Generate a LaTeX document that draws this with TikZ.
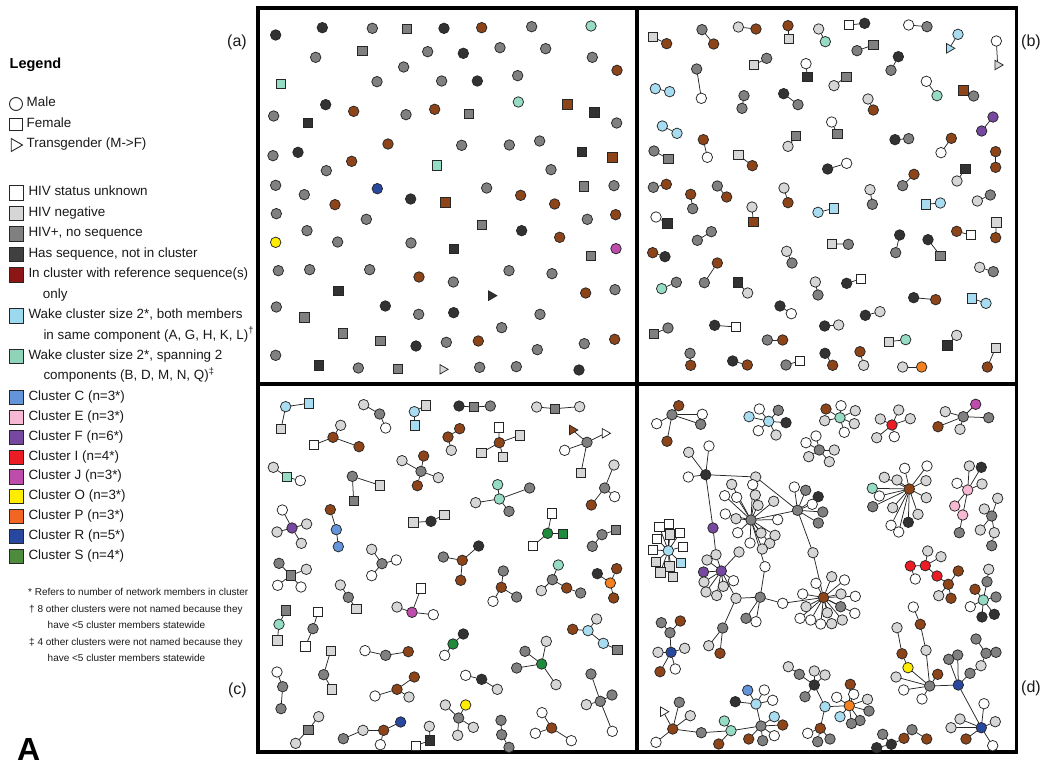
\documentclass[tikz,border=0pt]{standalone}
\usepackage{fontspec}
\setmainfont{Liberation Sans}
\usetikzlibrary{shapes.geometric}
\definecolor{kdk}{RGB}{50,50,50}
\definecolor{kgy}{RGB}{128,128,128}
\definecolor{klg}{RGB}{214,214,214}
\definecolor{kbr}{RGB}{140,68,24}
\definecolor{kmt}{RGB}{150,220,196}
\definecolor{kcy}{RGB}{168,220,240}
\definecolor{kcf}{RGB}{100,148,218}
\definecolor{kpk}{RGB}{246,184,210}
\definecolor{kvi}{RGB}{118,72,160}
\definecolor{krd}{RGB}{236,28,36}
\definecolor{kmg}{RGB}{190,76,170}
\definecolor{kyl}{RGB}{255,236,0}
\definecolor{kor}{RGB}{245,128,32}
\definecolor{klor}{RGB}{242,101,34}
\definecolor{knv}{RGB}{40,72,160}
\definecolor{kgn}{RGB}{30,140,60}
\definecolor{klgn}{RGB}{76,140,60}
\definecolor{kdr}{RGB}{140,22,22}
\definecolor{klcy}{RGB}{157,217,238}
\definecolor{klmt}{RGB}{143,211,184}
\definecolor{kldk}{RGB}{64,64,64}
\pgfdeclarelayer{bg}
\pgfsetlayers{bg,main}
\newcommand\mknode[4]{\node[#2] (#1) at (#3,#4) {};}
\tikzset{
  nd/.style={draw=black!85, line width=0.75pt, inner sep=0pt, outer sep=0pt},
  cir/.style={nd, circle, minimum size=10.5pt},
  sqr/.style={nd, rectangle, minimum size=9.5pt},
  tri/.style={nd, regular polygon, regular polygon sides=3, shape border rotate=-90, minimum size=11pt},
  cD/.style={cir, fill=kdk}, cG/.style={cir, fill=kgy}, cL/.style={cir, fill=klg}, cW/.style={cir, fill=white},
  cB/.style={cir, fill=kbr}, cM/.style={cir, fill=kmt}, cC/.style={cir, fill=kcy}, cF/.style={cir, fill=kcf},
  cK/.style={cir, fill=kpk}, cV/.style={cir, fill=kvi}, cR/.style={cir, fill=krd}, cP/.style={cir, fill=kmg},
  cY/.style={cir, fill=kyl}, cO/.style={cir, fill=kor}, cN/.style={cir, fill=knv}, cS/.style={cir, fill=kgn},
  sD/.style={sqr, fill=kdk}, sG/.style={sqr, fill=kgy}, sL/.style={sqr, fill=klg}, sW/.style={sqr, fill=white},
  sB/.style={sqr, fill=kbr}, sM/.style={sqr, fill=kmt}, sC/.style={sqr, fill=kcy}, sS/.style={sqr, fill=kgn},
  tD/.style={tri, fill=kdk}, tL/.style={tri, fill=klg}, tW/.style={tri, fill=white}, tB/.style={tri, fill=kbr}, tC/.style={tri, fill=kcy},
  lnk/.style={draw=black!85, line width=0.75pt},
  frm/.style={draw=black, line width=3.5pt},
  lgtxt/.style={anchor=mid west, inner sep=0pt, text=black!90, font=\fontsize{13.4}{16}\selectfont},
  fntxt/.style={anchor=mid west, inner sep=0pt, text=black!90, font=\fontsize{10}{12}\selectfont},
  pnl/.style={inner sep=0pt, text=black!90, font=\fontsize{16}{19}\selectfont},
  lgsq/.style={draw=black!85, line width=0.9pt, rectangle, minimum size=14.5pt, inner sep=0pt},
}
\begin{document}
\begin{tikzpicture}[x=1pt,y=-1pt]
\useasboundingbox (0,0) rectangle (1045,765);
% ---------------- legend
\node[anchor=mid west, inner sep=0pt, font=\bfseries\fontsize{14.5}{17}\selectfont] (ltitle) at (9.5,66) {Legend};
\node[draw=black!85, line width=0.9pt, circle, minimum size=13pt, inner sep=0pt] (lsymM) at (16,104) {};
\node[lgtxt] (ltM) at (26.5,104) {Male};
\node[draw=black!85, line width=0.9pt, rectangle, minimum size=12.5pt, inner sep=0pt] (lsymF) at (16,124.5) {};
\node[lgtxt] (ltF) at (26.5,124.5) {Female};
\node[draw=black!85, line width=0.9pt, regular polygon, regular polygon sides=3, shape border rotate=-90, minimum size=15pt, inner sep=0pt] (lsymT) at (15,145) {};
\node[lgtxt] (ltT) at (26.5,145) {Transgender (M->F)};
\node[lgsq, fill=white] (lq1) at (16.5,193) {};
\node[lgtxt] (lt1) at (28.3,193) {HIV status unknown};
\node[lgsq, fill=klg] (lq2) at (16.5,213.5) {};
\node[lgtxt] (lt2) at (28.3,213.5) {HIV negative};
\node[lgsq, fill=kgy] (lq3) at (16.5,234) {};
\node[lgtxt] (lt3) at (28.3,234) {HIV+, no sequence};
\node[lgsq, fill=kldk] (lq4) at (16.5,254.5) {};
\node[lgtxt] (lt4) at (28.3,254.5) {Has sequence, not in cluster};
\node[lgsq, fill=kdr] (lq5) at (16.5,275) {};
\node[lgtxt] (lt5) at (28.3,275) {In cluster with reference sequence(s)};
\node[lgtxt] (lt5b) at (42.7,295.5) {only};
\node[lgsq, fill=klcy] (lq6) at (16.5,316) {};
\node[lgtxt] (lt6) at (28.3,316) {Wake cluster size 2*, both members};
\node[lgtxt] (lt6b) at (43.3,336.5) {in same component (A, G, H, K, L)\textsuperscript{†}};
\node[lgsq, fill=klmt] (lq7) at (16.5,356.5) {};
\node[lgtxt] (lt7) at (28.3,356.5) {Wake cluster size 2*, spanning 2};
\node[lgtxt] (lt7b) at (43.3,377) {components (B, D, M, N, Q)\textsuperscript{‡}};
\node[lgsq, fill=kcf] (lq8) at (16.5,397.5) {};
\node[lgtxt] (lt8) at (28.3,397.5) {Cluster C (n=3*)};
\node[lgsq, fill=kpk] (lq9) at (16.5,417.5) {};
\node[lgtxt] (lt9) at (28.3,417.5) {Cluster E (n=3*)};
\node[lgsq, fill=kvi] (lq10) at (16.5,437.5) {};
\node[lgtxt] (lt10) at (28.3,437.5) {Cluster F (n=6*)};
\node[lgsq, fill=krd] (lq11) at (16.5,457.5) {};
\node[lgtxt] (lt11) at (28.3,457.5) {Cluster I (n=4*)};
\node[lgsq, fill=kmg] (lq12) at (16.5,477) {};
\node[lgtxt] (lt12) at (28.3,477) {Cluster J (n=3*)};
\node[lgsq, fill=kyl] (lq13) at (16.5,496.5) {};
\node[lgtxt] (lt13) at (28.3,496.5) {Cluster O (n=3*)};
\node[lgsq, fill=klor] (lq14) at (16.5,516.5) {};
\node[lgtxt] (lt14) at (28.3,516.5) {Cluster P (n=3*)};
\node[lgsq, fill=knv] (lq15) at (16.5,536.5) {};
\node[lgtxt] (lt15) at (28.3,536.5) {Cluster R (n=5*)};
\node[lgsq, fill=klgn] (lq16) at (16.5,556.5) {};
\node[lgtxt] (lt16) at (28.3,556.5) {Cluster S (n=4*)};
\node[fntxt] (fn1) at (28,593) {* Refers to number of network members in cluster};
\node[fntxt] (fn2) at (29,609.5) {† 8 other clusters were not named because they};
\node[fntxt] (fn3) at (47.5,626) {have <5 cluster members statewide};
\node[fntxt] (fn4) at (29,642.5) {‡ 4 other clusters were not named because they};
\node[fntxt] (fn5) at (47.5,659) {have <5 cluster members statewide};
\node[anchor=base west, inner sep=0pt, font=\bfseries\fontsize{32}{36}\selectfont] (bigA) at (17,760) {A};
\node[pnl, anchor=mid east] (la) at (247,44) {(a)};
\node[pnl, anchor=mid west] (lb) at (1021,44) {(b)};
\node[pnl, anchor=mid east] (lc) at (247,692) {(c)};
\node[pnl, anchor=mid west] (ld) at (1021,690) {(d)};
% ---------------- frames
\draw[frm] (258,8) rectangle (1016.5,752);
\draw[frm] (637,8) -- (637,752);
\draw[frm] (258,384) -- (1016.5,384);
% ---------------- panel a
\begin{scope}[shift={(255pt,-5pt)}, x=0.33333pt, y=-0.33333pt]
\mknode{a1}{cD}{62}{90}\mknode{a2}{cD}{202}{68}\mknode{a3}{cG}{352}{70}\mknode{a4}{sG}{455}{72}
\mknode{a5}{cD}{567}{70}\mknode{a6}{cB}{680}{68}\mknode{a7}{cG}{830}{65}\mknode{a8}{cM}{1008}{63}
\mknode{a9}{cG}{182}{157}\mknode{a10}{sG}{322}{137}\mknode{a11}{cG}{518}{140}\mknode{a12}{cD}{625}{145}
\mknode{a13}{cG}{735}{128}\mknode{a14}{cG}{872}{131}\mknode{a15}{cG}{1012}{157}\mknode{a16}{cB}{1086}{196}
\mknode{a17}{sM}{78}{237}\mknode{a18}{cG}{366}{230}\mknode{a19}{cG}{446}{186}\mknode{a20}{cG}{560}{228}
\mknode{a21}{cD}{667}{228}\mknode{a22}{cG}{788}{212}\mknode{a23}{cD}{212}{299}\mknode{a24}{cB}{296}{319}
\mknode{a25}{cG}{56}{333}\mknode{a26}{sD}{158}{354}\mknode{a27}{cG}{453}{329}\mknode{a28}{cB}{539}{313}
\mknode{a29}{sG}{641}{326}\mknode{a30}{cM}{790}{291}\mknode{a31}{sB}{937}{298}\mknode{a32}{sD}{1018}{322}
\mknode{a33}{cG}{1085}{354}\mknode{a34}{cG}{54}{452}\mknode{a35}{cD}{129}{442}\mknode{a36}{cB}{399}{417}
\mknode{a37}{cB}{290}{469}\mknode{a38}{cG}{214}{497}\mknode{a39}{cG}{620}{421}\mknode{a40}{cG}{763}{420}
\mknode{a41}{cG}{854}{408}\mknode{a42}{sM}{546}{481}\mknode{a43}{cG}{888}{494}\mknode{a44}{sD}{980}{440}
\mknode{a45}{sB}{1072}{457}\mknode{a46}{cG}{62}{541}\mknode{a47}{cG}{148}{569}\mknode{a48}{cN}{367}{551}
\mknode{a49}{cD}{467}{582}\mknode{a50}{cB}{240}{599}\mknode{a51}{sB}{571}{592}\mknode{a52}{cG}{695}{549}
\mknode{a53}{cB}{797}{571}\mknode{a54}{cB}{899}{597}\mknode{a55}{sG}{986}{544}\mknode{a56}{cG}{1077}{542}
\mknode{a57}{cG}{64}{626}\mknode{a58}{cG}{334}{643}\mknode{a59}{cG}{156}{677}\mknode{a60}{sG}{680}{660}
\mknode{a61}{cD}{800}{677}\mknode{a62}{cG}{997}{643}\mknode{a63}{cB}{1082}{629}\mknode{a64}{cY}{62}{712}
\mknode{a65}{cG}{248}{711}\mknode{a66}{cG}{468}{714}\mknode{a67}{sD}{596}{731}\mknode{a68}{cB}{914}{697}
\mknode{a69}{sG}{1008}{752}\mknode{a70}{cP}{1083}{731}\mknode{a71}{cG}{70}{797}\mknode{a72}{cG}{164}{794}
\mknode{a73}{cG}{344}{794}\mknode{a74}{cB}{492}{816}\mknode{a75}{cG}{595}{831}\mknode{a76}{cG}{762}{797}
\mknode{a77}{cG}{891}{806}\mknode{a78}{cB}{992}{864}\mknode{a79}{cG}{1080}{854}\mknode{a80}{sD}{250}{857}
\mknode{a81}{tD}{709}{872}\mknode{a82}{cG}{64}{906}\mknode{a83}{cD}{391}{903}\mknode{a84}{cG}{491}{928}
\mknode{a85}{cD}{596}{923}\mknode{a86}{cG}{855}{928}\mknode{a87}{sG}{148}{937}\mknode{a88}{sG}{263}{985}
\mknode{a89}{sG}{376}{1008}\mknode{a90}{cD}{483}{1023}\mknode{a91}{cG}{574}{1012}\mknode{a92}{cB}{670}{1008}
\mknode{a93}{cG}{740}{968}\mknode{a94}{cG}{847}{1034}\mknode{a95}{cG}{988}{1016}\mknode{a96}{cB}{1079}{1003}
\mknode{a97}{cG}{62}{1051}\mknode{a98}{sD}{191}{1081}\mknode{a99}{cG}{310}{1089}\mknode{a100}{sG}{429}{1092}
\mknode{a101}{tL}{563}{1093}\mknode{a102}{cG}{674}{1087}\mknode{a103}{cG}{784}{1085}\mknode{a104}{cD}{972}{1095}
\end{scope}
% ---------------- panel b
\begin{scope}[shift={(636pt,-5pt)}, x=0.33333pt, y=-0.33333pt]
\mknode{b1}{sL}{50}{96}\mknode{b2}{cB}{92}{116}
\mknode{b3}{cG}{198}{74}\mknode{b4}{cB}{233}{117}
\mknode{b5}{cL}{307}{66}\mknode{b6}{cB}{360}{72}
\mknode{b7}{cB}{456}{62}\mknode{b8}{sL}{459}{102}
\mknode{b9}{cL}{548}{72}\mknode{b10}{cM}{568}{110}
\mknode{b11}{sW}{638}{60}\mknode{b12}{cD}{686}{55}
\mknode{b13}{cW}{818}{60}\mknode{b14}{cG}{873}{65}
\mknode{b15}{cC}{966}{88}\mknode{b16}{tC}{940}{130}
\mknode{b17}{cW}{1081}{108}\mknode{b18}{tL}{1085}{180}
\mknode{b19}{cG}{663}{137}\mknode{b20}{sG}{712}{120}
\mknode{b21}{sL}{354}{180}\mknode{b22}{cG}{392}{160}
\mknode{b23}{cW}{510}{176}\mknode{b24}{sD}{514}{215}
\mknode{b25}{cD}{787}{155}\mknode{b26}{cG}{765}{196}
\mknode{b27}{cG}{182}{192}\mknode{b28}{cW}{196}{280}
\mknode{b29}{cC}{58}{251}\mknode{b30}{cC}{101}{260}
\mknode{b31}{cG}{324}{272}\mknode{b32}{cG}{318}{310}
\mknode{b33}{cD}{443}{266}\mknode{b34}{cG}{486}{299}
\mknode{b35}{cL}{594}{242}\mknode{b36}{sG}{631}{215}
\mknode{b37}{cW}{871}{229}\mknode{b38}{cM}{903}{272}
\mknode{b39}{sB}{982}{256}\mknode{b40}{cG}{1013}{273}
\mknode{b41}{cL}{696}{282}\mknode{b42}{cB}{712}{315}
\mknode{b43}{cC}{79}{363}\mknode{b44}{cC}{123}{385}
\mknode{b45}{cB}{202}{404}\mknode{b46}{cW}{214}{457}
\mknode{b47}{sG}{480}{393}\mknode{b48}{cL}{456}{424}
\mknode{b49}{cW}{587}{351}\mknode{b50}{sG}{604}{387}
\mknode{b51}{cV}{1071}{336}\mknode{b52}{cV}{1037}{378}
\mknode{b53}{cD}{777}{404}\mknode{b54}{cG}{818}{401}
\mknode{b55}{cB}{946}{400}\mknode{b56}{cW}{915}{443}
\mknode{b57}{cG}{54}{438}\mknode{b58}{sG}{97}{462}
\mknode{b59}{sL}{307}{450}\mknode{b60}{cB}{349}{482}
\mknode{b61}{cD}{575}{492}\mknode{b62}{cW}{632}{475}
\mknode{b63}{cB}{1079}{440}\mknode{b64}{cB}{1079}{487}
\mknode{b65}{sD}{988}{491}\mknode{b66}{cL}{963}{528}
\mknode{b67}{cG}{52}{547}\mknode{b68}{cB}{91}{538}
\mknode{b69}{cB}{164}{568}\mknode{b70}{cG}{170}{611}
\mknode{b71}{cG}{244}{543}\mknode{b72}{cB}{272}{576}
\mknode{b73}{cL}{444}{549}\mknode{b74}{cB}{456}{593}
\mknode{b75}{cB}{834}{508}\mknode{b76}{cG}{800}{542}
\mknode{b77}{cL}{702}{554}\mknode{b78}{cG}{709}{598}
\mknode{b79}{cL}{1024}{588}\mknode{b80}{cG}{1063}{570}
\mknode{b81}{sC}{869}{598}\mknode{b82}{cC}{913}{594}
\mknode{b83}{cL}{348}{606}\mknode{b84}{sB}{352}{650}
\mknode{b85}{cC}{546}{622}\mknode{b86}{sC}{594}{610}
\mknode{b87}{cW}{60}{636}\mknode{b88}{sD}{94}{655}
\mknode{b89}{cG}{184}{706}\mknode{b90}{cG}{226}{680}
\mknode{b91}{cB}{962}{679}\mknode{b92}{sW}{1004}{690}
\mknode{b93}{sL}{1081}{652}\mknode{b94}{cB}{1079}{698}
\mknode{b95}{cB}{50}{743}\mknode{b96}{cD}{87}{755}
\mknode{b97}{sL}{588}{716}\mknode{b98}{cG}{637}{718}
\mknode{b99}{cD}{791}{690}\mknode{b100}{cG}{779}{743}
\mknode{b101}{cD}{876}{704}\mknode{b102}{sG}{913}{752}
\mknode{b103}{cL}{452}{739}\mknode{b104}{cG}{468}{774}
\mknode{b105}{cB}{244}{774}\mknode{b106}{cG}{205}{833}
\mknode{b107}{cM}{77}{851}\mknode{b108}{cG}{121}{832}
\mknode{b109}{sD}{305}{832}\mknode{b110}{cL}{335}{864}
\mknode{b111}{cL}{538}{831}\mknode{b112}{cG}{546}{870}
\mknode{b113}{cD}{632}{835}\mknode{b114}{sW}{674}{822}
\mknode{b115}{cL}{1031}{787}\mknode{b116}{cG}{1072}{800}
\mknode{b117}{cD}{833}{878}\mknode{b118}{cB}{899}{884}
\mknode{b119}{sC}{1008}{880}\mknode{b120}{cC}{1050}{895}
\mknode{b121}{cD}{432}{903}\mknode{b122}{cW}{466}{926}
\mknode{b123}{cD}{688}{931}\mknode{b124}{cL}{732}{920}
\mknode{b125}{sG}{54}{986}\mknode{b126}{cG}{96}{969}
\mknode{b127}{cD}{236}{961}\mknode{b128}{sW}{299}{966}
\mknode{b129}{cD}{566}{963}\mknode{b130}{cL}{608}{960}
\mknode{b131}{cG}{394}{1005}\mknode{b132}{cB}{440}{1005}
\mknode{b133}{sL}{759}{1010}\mknode{b134}{cM}{809}{1004}
\mknode{b135}{sD}{934}{1021}\mknode{b136}{cL}{962}{991}
\mknode{b137}{sL}{1079}{1028}\mknode{b138}{cB}{1054}{1086}
\mknode{b139}{cG}{162}{1045}\mknode{b140}{cB}{164}{1081}
\mknode{b141}{cD}{290}{1068}\mknode{b142}{cB}{334}{1080}
\mknode{b143}{cG}{450}{1080}\mknode{b144}{sW}{492}{1068}
\mknode{b145}{cD}{567}{1045}\mknode{b146}{cB}{590}{1081}
\mknode{b147}{cB}{672}{1040}\mknode{b148}{cL}{683}{1081}
\mknode{b149}{cL}{800}{1086}\mknode{b150}{cO}{857}{1086}
\end{scope}
% ---------------- panel c
\begin{scope}[shift={(255pt,-378pt)}, x=0.33333pt, y=-0.33333pt]
\mknode{c1}{cC}{92}{86}\mknode{c2}{sC}{161}{76}\mknode{c3}{sL}{78}{153}
\mknode{c4}{cL}{326}{80}\mknode{c5}{cG}{374}{108}\mknode{c6}{cW}{392}{150}
\mknode{c7}{sL}{512}{82}\mknode{c8}{cC}{478}{101}\mknode{c9}{sC}{479}{142}
\mknode{c10}{cD}{612}{84}\mknode{c11}{sG}{656}{87}\mknode{c12}{cG}{706}{84}
\mknode{c13}{cL}{845}{87}\mknode{c14}{sG}{900}{92}\mknode{c15}{cL}{974}{86}
\mknode{c16}{cL}{257}{142}\mknode{c17}{cB}{234}{178}\mknode{c18}{sW}{176}{201}\mknode{c19}{cB}{312}{206}
\mknode{c20}{cB}{614}{152}\mknode{c21}{cB}{579}{177}\mknode{c22}{cL}{589}{217}
\mknode{c23}{sW}{731}{148}\mknode{c24}{sL}{794}{172}\mknode{c25}{cB}{733}{194}\mknode{c26}{sL}{679}{224}\mknode{c27}{sL}{744}{236}
\mknode{c28}{tB}{952}{156}\mknode{c29}{tW}{1050}{166}\mknode{c30}{cG}{996}{193}\mknode{c31}{cW}{929}{217}\mknode{c32}{sL}{978}{284}
\mknode{c33}{cL}{55}{268}\mknode{c34}{sM}{95}{297}\mknode{c35}{cW}{136}{308}
\mknode{c36}{cG}{292}{295}\mknode{c37}{sL}{375}{322}\mknode{c38}{sG}{296}{368}
\mknode{c39}{cL}{441}{248}\mknode{c40}{cB}{506}{234}\mknode{c41}{cG}{498}{280}\mknode{c42}{cL}{550}{299}\mknode{c43}{cB}{487}{323}
\mknode{c44}{cL}{1077}{261}\mknode{c45}{cG}{1049}{330}\mknode{c46}{cW}{1079}{356}\mknode{c47}{cB}{1009}{381}
\mknode{c48}{cM}{728}{320}\mknode{c49}{cL}{662}{374}\mknode{c50}{cM}{733}{363}\mknode{c51}{cG}{824}{330}\mknode{c52}{cG}{762}{400}
\mknode{c53}{cW}{82}{396}\mknode{c54}{cL}{155}{438}\mknode{c55}{cV}{111}{450}\mknode{c56}{cL}{66}{462}\mknode{c57}{cL}{139}{496}
\mknode{c58}{cB}{226}{395}\mknode{c59}{cF}{244}{455}\mknode{c60}{cF}{250}{506}
\mknode{c61}{sL}{475}{433}\mknode{c62}{cD}{528}{430}\mknode{c63}{sL}{568}{410}
\mknode{c64}{sW}{890}{406}\mknode{c65}{cS}{878}{466}\mknode{c66}{sS}{924}{467}\mknode{c67}{sW}{834}{504}
\mknode{c68}{cG}{1012}{505}\mknode{c69}{cG}{1041}{470}\mknode{c70}{sG}{1083}{456}
\mknode{c71}{cL}{350}{514}\mknode{c72}{cG}{381}{557}\mknode{c73}{cW}{424}{546}\mknode{c74}{cW}{350}{593}
\mknode{c75}{cD}{671}{504}\mknode{c76}{cG}{565}{537}\mknode{c77}{cB}{622}{547}\mknode{c78}{cB}{617}{607}
\mknode{c79}{cG}{72}{556}\mknode{c80}{sG}{107}{592}\mknode{c81}{cL}{154}{574}\mknode{c82}{cW}{68}{622}\mknode{c83}{cW}{138}{627}
\mknode{c84}{cL}{256}{621}\mknode{c85}{cG}{280}{658}\mknode{c86}{sL}{304}{692}
\mknode{c87}{cG}{745}{579}\mknode{c88}{cB}{739}{628}\mknode{c89}{cW}{714}{670}\mknode{c90}{cG}{785}{657}
\mknode{c91}{cM}{910}{561}\mknode{c92}{cG}{892}{605}\mknode{c93}{cL}{859}{638}\mknode{c94}{cB}{935}{630}\mknode{c95}{cG}{977}{645}
\mknode{c96}{cD}{1027}{587}\mknode{c97}{cB}{1085}{572}\mknode{c98}{cO}{1066}{615}\mknode{c99}{cB}{1076}{660}
\mknode{c100}{sW}{498}{631}\mknode{c101}{cP}{471}{703}\mknode{c102}{cL}{426}{687}\mknode{c103}{cW}{535}{710}
\mknode{c104}{sG}{93}{697}\mknode{c105}{cM}{72}{739}\mknode{c106}{sL}{67}{787}
\mknode{c107}{sW}{189}{702}\mknode{c108}{cG}{174}{752}\mknode{c109}{sW}{151}{805}
\mknode{c110}{cL}{1025}{723}\mknode{c111}{cC}{999}{758}\mknode{c112}{cB}{953}{754}\mknode{c113}{cC}{1045}{796}\mknode{c114}{sG}{1087}{815}
\mknode{c115}{cW}{330}{818}\mknode{c116}{cG}{392}{832}\mknode{c117}{cB}{460}{821}
\mknode{c118}{cD}{625}{768}\mknode{c119}{cS}{594}{798}\mknode{c120}{cW}{569}{832}
\mknode{c121}{cL}{874}{790}\mknode{c122}{cG}{810}{820}\mknode{c123}{cS}{860}{858}\mknode{c124}{cG}{785}{870}\mknode{c125}{cL}{903}{920}
\mknode{c126}{sL}{227}{818}\mknode{c127}{cG}{206}{890}\mknode{c128}{sL}{231}{934}
\mknode{c129}{cW}{66}{882}\mknode{c130}{cG}{83}{926}\mknode{c131}{cG}{78}{992}
\mknode{c132}{cW}{632}{892}\mknode{c133}{cD}{680}{904}\mknode{c134}{cL}{727}{934}
\mknode{c135}{cB}{478}{897}\mknode{c136}{cB}{426}{934}\mknode{c137}{cW}{360}{954}\mknode{c138}{cL}{462}{957}
\mknode{c139}{cG}{1008}{888}\mknode{c140}{cG}{1071}{951}\mknode{c141}{cL}{994}{980}\mknode{c142}{cG}{1036}{970}\mknode{c143}{cW}{1072}{1060}
\mknode{c144}{cL}{571}{981}\mknode{c145}{cY}{632}{981}\mknode{c146}{cG}{611}{1020}\mknode{c147}{cL}{655}{1048}\mknode{c148}{cL}{608}{1072}
\mknode{c149}{cG}{738}{1027}\mknode{c150}{cG}{740}{1070}\mknode{c151}{cG}{762}{1108}
\mknode{c152}{cW}{861}{1004}\mknode{c153}{cB}{890}{1050}\mknode{c154}{cW}{841}{1066}\mknode{c155}{cW}{949}{1088}
\mknode{c156}{cL}{191}{1016}\mknode{c157}{sG}{160}{1055}\mknode{c158}{cL}{122}{1096}
\mknode{c159}{cG}{265}{1082}\mknode{c160}{cL}{324}{1057}\mknode{c161}{cB}{386}{1057}\mknode{c162}{cN}{437}{1032}\mknode{c163}{cW}{376}{1100}
\mknode{c164}{cL}{523}{1045}\mknode{c165}{sD}{525}{1087}\mknode{c166}{sW}{483}{1103}
\end{scope}
% ---------------- panel d
\mknode{d1}{cB}{678.7}{405.7}\mknode{d2}{cG}{672}{414.7}\mknode{d3}{cW}{656.7}{423.7}\mknode{d4}{cW}{702.3}{414.3}\mknode{d5}{cG}{700.7}{424.3}\mknode{d6}{cB}{667}{441.3}
\mknode{d7}{cC}{768.7}{421.3}\mknode{d8}{cC}{749}{416.7}\mknode{d9}{cW}{759.3}{409}\mknode{d10}{cG}{778.3}{410.3}\mknode{d11}{cD}{786}{422.7}\mknode{d12}{cL}{776}{435}\mknode{d13}{cW}{758.3}{430.7}
\mknode{d14}{cM}{840}{417.7}\mknode{d15}{cB}{826}{409}\mknode{d16}{cL}{824.7}{420.7}\mknode{d17}{cW}{841}{405.7}\mknode{d18}{cL}{855.3}{410.7}\mknode{d19}{cL}{854.3}{423.7}\mknode{d20}{cW}{844.3}{432.3}
\mknode{d21}{cG}{819.3}{450}\mknode{d22}{cW}{816}{436}\mknode{d23}{cW}{806}{442.7}\mknode{d24}{cL}{808.7}{456.7}\mknode{d25}{cL}{829.3}{461.7}\mknode{d26}{cL}{834.3}{450}
\mknode{d27}{cR}{892}{425}\mknode{d28}{cL}{898.7}{410}\mknode{d29}{cL}{880.3}{419}\mknode{d30}{cL}{910.3}{418.7}\mknode{d31}{cL}{876.7}{437.7}\mknode{d32}{cW}{894.3}{436.7}
\mknode{d33}{cG}{963.3}{416.7}\mknode{d34}{cL}{945.3}{411.7}\mknode{d35}{cP}{975.7}{404.3}\mknode{d36}{cG}{988.7}{417.7}\mknode{d37}{cB}{938}{426.7}\mknode{d38}{cL}{960}{429.3}
\mknode{d39}{cB}{909.3}{489}\mknode{d40}{cM}{872.3}{488.3}\mknode{d41}{cL}{884.3}{477.3}\mknode{d42}{cL}{897}{480}\mknode{d43}{cW}{904.7}{468.3}\mknode{d44}{cW}{927}{466}\mknode{d45}{cL}{926}{480.7}\mknode{d46}{cL}{926.3}{497.7}\mknode{d47}{cW}{879.3}{496}\mknode{d48}{cG}{872.7}{506.7}\mknode{d49}{cL}{892.7}{507.7}\mknode{d50}{cW}{891}{525.3}\mknode{d51}{cW}{898.7}{532}\mknode{d52}{cD}{908.3}{522.3}\mknode{d53}{cL}{918}{514.3}
\mknode{d54}{cK}{967.7}{490}\mknode{d55}{cL}{969.3}{466}\mknode{d56}{cD}{981.3}{467.3}\mknode{d57}{cW}{957}{483.3}\mknode{d58}{cL}{982}{484}\mknode{d59}{cK}{954.7}{506}\mknode{d60}{cK}{962.7}{515}\mknode{d61}{cG}{959.3}{532.7}
\mknode{d62}{cG}{991.7}{516}\mknode{d63}{cL}{997.7}{498.3}\mknode{d64}{cL}{984.3}{509}\mknode{d65}{cL}{980.3}{530}\mknode{d66}{cL}{994.3}{532.7}\mknode{d67}{cG}{991.7}{545.7}
\mknode{d68}{cR}{910.3}{566}\mknode{d69}{cR}{925.3}{565.7}\mknode{d70}{cL}{927.7}{551}\mknode{d71}{cL}{941}{556.7}\mknode{d72}{cW}{915.3}{579}\mknode{d73}{cR}{937}{576}\mknode{d74}{cB}{948.3}{584.3}\mknode{d75}{cB}{958.3}{571}\mknode{d76}{cL}{938.7}{595.7}\mknode{d77}{cB}{951}{598.3}
\mknode{d78}{cM}{983.3}{600}\mknode{d79}{cL}{988.7}{569.3}\mknode{d80}{cG}{987}{581.7}\mknode{d81}{cB}{975}{589.3}\mknode{d82}{cG}{996}{597}\mknode{d83}{cW}{970.3}{606.7}\mknode{d84}{cD}{982}{617}\mknode{d85}{cD}{994.3}{614.3}
\mknode{d86}{cL}{688.7}{452.3}\mknode{d87}{cW}{709}{446}\mknode{d88}{cD}{705.7}{474.7}\mknode{d89}{cW}{688.3}{477}\mknode{d90}{cL}{755.7}{477}\mknode{d91}{cV}{713}{528}\mknode{d92}{cL}{716}{554.7}\mknode{d93}{cV}{721.3}{571}\mknode{d94}{cV}{703.5}{572}\mknode{d95}{cL}{707}{560}\mknode{d96}{cL}{704}{582}\mknode{d97}{cL}{706}{592}\mknode{d98}{cL}{716.7}{595.5}\mknode{d99}{cL}{723.3}{586.3}\mknode{d100}{cW}{733.5}{580.7}\mknode{d101}{cL}{739}{552}\mknode{d102}{cG}{751}{520}\mknode{d103}{cG}{797.5}{510.3}
\mknode{d104}{cL}{731.7}{484.3}\mknode{d105}{cW}{752.7}{484.7}\mknode{d106}{cW}{724.7}{495.7}\mknode{d107}{cW}{736.7}{497.3}\mknode{d108}{cL}{755.3}{495}\mknode{d109}{cL}{758}{505.3}\mknode{d110}{cL}{773.7}{501.3}\mknode{d111}{cW}{725.3}{514}\mknode{d112}{cL}{736}{518.7}\mknode{d113}{cW}{777.7}{519.7}\mknode{d114}{cW}{737.7}{532.7}\mknode{d115}{cW}{750}{543}\mknode{d116}{cL}{761}{533}\mknode{d117}{cL}{769.7}{543.3}\mknode{d118}{cL}{775}{535.3}\mknode{d119}{cL}{762.3}{549}
\mknode{d120}{cW}{765}{566.7}\mknode{d121}{cG}{760.2}{597.2}\mknode{d122}{cL}{736}{598.3}\mknode{d123}{cG}{722.7}{628}\mknode{d124}{cL}{708.7}{645.7}\mknode{d125}{cB}{720}{653.3}\mknode{d126}{cG}{746}{618.3}\mknode{d127}{cW}{756}{621.7}\mknode{d128}{cW}{782.7}{603.3}\mknode{d129}{cB}{823.5}{597.5}
\mknode{d130}{cW}{794.3}{487}\mknode{d131}{cG}{805.7}{490.3}\mknode{d132}{cD}{818.2}{496.7}\mknode{d133}{cW}{812.2}{504.3}\mknode{d134}{cG}{822.8}{512}\mknode{d135}{cG}{818.3}{523}\mknode{d136}{cL}{813}{552.7}
\mknode{d137}{cW}{802.7}{594}\mknode{d138}{cW}{816}{583.3}\mknode{d139}{cL}{831.7}{576.7}\mknode{d140}{cW}{844.5}{580}\mknode{d141}{cL}{841}{594}\mknode{d142}{cW}{855.3}{596.3}\mknode{d143}{cG}{840.7}{606.7}\mknode{d144}{cW}{854.8}{613.3}\mknode{d145}{cL}{842.3}{620}\mknode{d146}{cL}{831.7}{623.7}\mknode{d147}{cL}{827.3}{612.7}\mknode{d148}{cW}{820.7}{624}\mknode{d149}{cW}{810.7}{620}\mknode{d150}{cW}{800}{618.3}\mknode{d151}{cL}{806}{606.7}
\mknode{d152}{cD}{814.3}{685}\mknode{d153}{cL}{788.3}{666.7}\mknode{d154}{cG}{799.3}{674.3}\mknode{d155}{cL}{814.3}{671}\mknode{d156}{cL}{825}{675}\mknode{d157}{cG}{805}{696.7}\mknode{d158}{cC}{825}{706.7}\mknode{d159}{cB}{820.3}{728.3}\mknode{d160}{cW}{807.7}{733.3}\mknode{d161}{cG}{817.7}{741.7}\mknode{d162}{cG}{830}{739}
\mknode{d163}{cO}{849.3}{705.7}\mknode{d164}{cB}{850.3}{684.3}\mknode{d165}{cW}{853.7}{694.3}\mknode{d166}{cW}{836.7}{697.3}\mknode{d167}{cL}{867.5}{699.3}\mknode{d168}{cG}{869}{711}\mknode{d169}{cG}{860}{720.5}\mknode{d170}{cG}{851.5}{723.5}\mknode{d171}{cC}{840}{716.7}
\mknode{d172}{cD}{876.7}{747.7}\mknode{d173}{cD}{891.3}{744.3}\mknode{d174}{cG}{882.7}{734.3}\mknode{d175}{cB}{904}{738.3}\mknode{d176}{cG}{912}{729.7}\mknode{d177}{cB}{926.7}{739}
\mknode{d178}{cG}{929.7}{686}\mknode{d179}{cW}{903.7}{690}\mknode{d180}{cL}{896}{677}\mknode{d181}{cW}{922}{699}\mknode{d182}{cB}{937.7}{674.3}\mknode{d183}{cL}{926}{650.3}\mknode{d184}{cB}{920.3}{624.3}\mknode{d185}{cW}{913.3}{607}\mknode{d186}{cY}{908}{667.7}\mknode{d187}{cB}{902}{653.7}\mknode{d188}{cL}{897}{627.7}
\mknode{d189}{cN}{958.3}{685}\mknode{d190}{cG}{948.7}{659.3}\mknode{d191}{cG}{957.7}{655}\mknode{d192}{cG}{970}{673.3}\mknode{d193}{cL}{981}{665.7}\mknode{d194}{cG}{986}{653.3}\mknode{d195}{cG}{976}{639}\mknode{d196}{cG}{996}{652.3}
\mknode{d197}{cN}{981.3}{727.7}\mknode{d198}{cW}{984}{703.7}\mknode{d199}{cL}{960}{719}\mknode{d200}{cL}{951}{727.7}\mknode{d201}{cL}{995.3}{721.7}\mknode{d202}{cB}{966}{739}\mknode{d203}{cW}{992.7}{745.7}
\mknode{d204}{cC}{668.3}{550.7}\mknode{d205}{sW}{659.3}{526.7}\mknode{d206}{sW}{668.7}{524}\mknode{d207}{sL}{670}{534.3}\mknode{d208}{sW}{680}{532.7}\mknode{d209}{sW}{656.7}{538.7}\mknode{d210}{sW}{652.7}{550}\mknode{d211}{sW}{682.7}{546.7}\mknode{d212}{sL}{656}{561.7}\mknode{d213}{sC}{681}{562.7}\mknode{d214}{sL}{669.3}{566.5}\mknode{d215}{sL}{660.3}{572.3}\mknode{d216}{sL}{672.7}{576.7}
\mknode{d217}{cN}{671}{652.3}\mknode{d218}{cG}{670}{632.7}\mknode{d219}{cG}{661.3}{622.7}\mknode{d220}{cB}{680.3}{621}\mknode{d221}{cL}{658}{652.3}\mknode{d222}{cL}{684.7}{648.3}\mknode{d223}{cB}{660}{671.7}\mknode{d224}{cW}{675.3}{669}
\mknode{d225}{cB}{672.7}{729}\mknode{d226}{tW}{663.3}{711.7}\mknode{d227}{cG}{679.3}{702.3}\mknode{d228}{cL}{690.3}{715.7}\mknode{d229}{cW}{656}{742.3}\mknode{d230}{cG}{701.3}{732.7}\mknode{d231}{cM}{731}{730.7}\mknode{d232}{cM}{724.3}{721}\mknode{d233}{cB}{718.7}{744}\mknode{d234}{cG}{761}{726}\mknode{d235}{cC}{756}{704}\mknode{d236}{cD}{735.3}{701.7}\mknode{d237}{cF}{747.7}{690.3}\mknode{d238}{cW}{764.3}{690}\mknode{d239}{cW}{772.7}{700.3}\mknode{d240}{cC}{774.3}{716.7}\mknode{d241}{cB}{782.7}{725}\mknode{d242}{cW}{774.3}{735.7}\mknode{d243}{cB}{748.7}{739}\mknode{d244}{cG}{762.7}{740.7}
% ---------------- connectors
\begin{pgfonlayer}{bg}
\foreach \i [evaluate=\i as \j using int(\i+1)] in {1,3,...,149} \draw[lnk] (b\i) -- (b\j);
\foreach \u/\v in {c1/c2,c1/c3,c4/c5,c5/c6,c8/c7,c8/c9,c10/c11,c11/c12,c13/c14,c14/c15,c17/c16,c17/c18,c17/c19,c20/c21,c21/c22,c25/c23,c25/c24,c25/c26,c25/c27,c30/c28,c30/c29,c30/c31,c30/c32,c33/c34,c34/c35,c36/c37,c36/c38,c41/c39,c41/c40,c41/c42,c41/c43,c45/c44,c45/c46,c45/c47,c50/c48,c50/c49,c50/c51,c50/c52,c55/c53,c55/c54,c55/c56,c55/c57,c58/c59,c59/c60,c61/c62,c62/c63,c65/c64,c65/c66,c65/c67,c68/c69,c69/c70,c72/c71,c72/c73,c72/c74,c77/c75,c77/c76,c77/c78,c80/c79,c80/c81,c80/c82,c80/c83,c84/c85,c85/c86,c88/c87,c88/c89,c88/c90,c91/c92,c92/c93,c92/c94,c94/c95,c98/c96,c98/c97,c98/c99,c101/c100,c101/c102,c101/c103,c104/c105,c105/c106,c107/c108,c108/c109,c111/c110,c111/c112,c111/c113,c113/c114,c115/c116,c116/c117,c118/c119,c119/c120,c123/c121,c123/c122,c123/c124,c123/c125,c126/c127,c127/c128,c129/c130,c130/c131,c132/c133,c133/c134,c136/c135,c136/c137,c136/c138,c142/c139,c142/c140,c142/c141,c142/c143,c146/c144,c146/c145,c146/c147,c146/c148,c149/c150,c150/c151,c153/c152,c153/c154,c153/c155,c156/c157,c157/c158,c159/c160,c160/c161,c161/c162,c161/c163,c164/c165,c165/c166}
  \draw[lnk] (\u) -- (\v);
\foreach \k in {1,3,4,5,6} \draw[lnk] (d2) -- (d\k);
\draw[lnk] (d4) -- (d5);
\foreach \k in {8,...,13} \draw[lnk] (d7) -- (d\k);
\foreach \k in {15,...,20} \draw[lnk] (d14) -- (d\k);
\foreach \k in {22,...,26} \draw[lnk] (d21) -- (d\k);
\foreach \k in {28,...,32} \draw[lnk] (d27) -- (d\k);
\foreach \k in {34,...,38} \draw[lnk] (d33) -- (d\k);
\foreach \k in {40,...,53} \draw[lnk] (d39) -- (d\k);
\foreach \k in {55,...,60} \draw[lnk] (d54) -- (d\k);
\foreach \k in {63,...,66} \draw[lnk] (d62) -- (d\k);
\foreach \k in {81,...,85} \draw[lnk] (d78) -- (d\k);
\foreach \k in {94,...,101} \draw[lnk] (d93) -- (d\k);
\foreach \k in {104,...,120} \draw[lnk] (d102) -- (d\k);
\foreach \k in {130,...,136} \draw[lnk] (d103) -- (d\k);
\foreach \k in {136,...,151} \draw[lnk] (d129) -- (d\k);
\foreach \k in {164,...,171} \draw[lnk] (d163) -- (d\k);
\foreach \k in {198,...,203} \draw[lnk] (d197) -- (d\k);
\foreach \k in {205,...,216} \draw[lnk] (d204) -- (d\k);
\foreach \k in {226,...,230} \draw[lnk] (d225) -- (d\k);
\foreach \k in {236,...,239} \draw[lnk] (d235) -- (d\k);
\foreach \k in {235,240,241,242,243,244} \draw[lnk] (d234) -- (d\k);
\foreach \k in {179,...,183,186,189} \draw[lnk] (d178) -- (d\k);
\foreach \k in {190,191,192,197} \draw[lnk] (d189) -- (d\k);
\foreach \k in {155,...,158} \draw[lnk] (d152) -- (d\k);
\foreach \k in {160,161,162} \draw[lnk] (d159) -- (d\k);
\foreach \k in {221,...,224} \draw[lnk] (d217) -- (d\k);
\foreach \u/\v in {d60/d61,d66/d67,d68/d69,d69/d70,d69/d71,d68/d72,d69/d73,d73/d74,d74/d75,d74/d76,d74/d77,d78/d80,d80/d79,d88/d86,d88/d87,d88/d89,d88/d90,d88/d91,d91/d92,d92/d93,d90/d103,d102/d103,d120/d121,d93/d122,d122/d121,d122/d123,d123/d124,d123/d125,d121/d126,d121/d127,d121/d128,d128/d129,d153/d154,d154/d152,d158/d159,d158/d163,d172/d173,d173/d174,d173/d175,d175/d176,d176/d177,d183/d184,d184/d185,d186/d187,d187/d188,d192/d193,d193/d194,d194/d195,d194/d196,d217/d218,d218/d219,d218/d220,d230/d231,d231/d232,d231/d233,d231/d234}
  \draw[lnk] (\u) -- (\v);
\end{pgfonlayer}
\end{tikzpicture}
\end{document}
